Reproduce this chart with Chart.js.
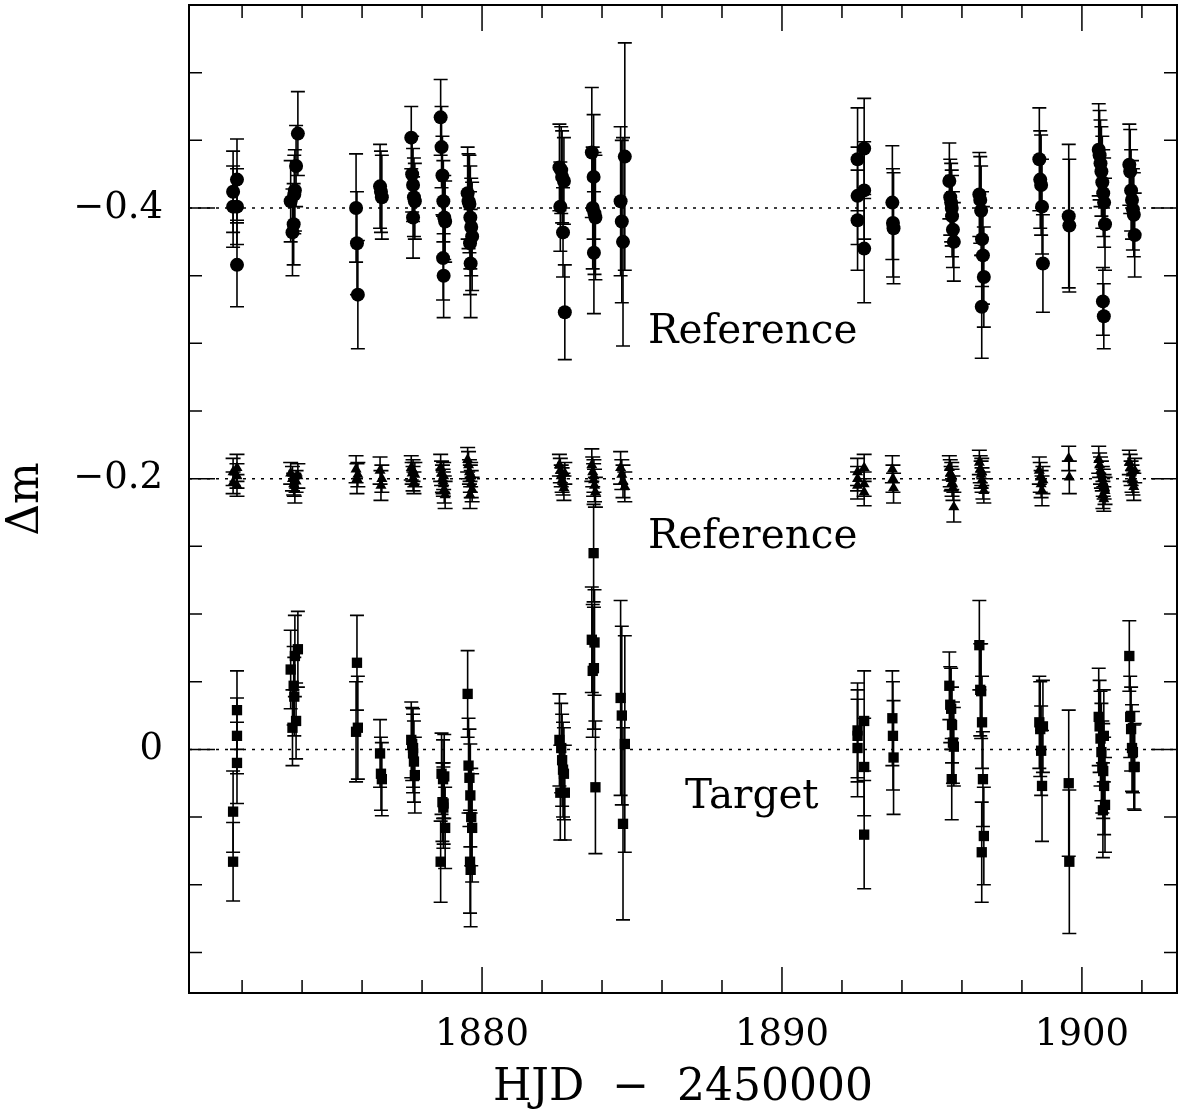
<!DOCTYPE html>
<html>
<head>
<meta charset="utf-8">
<script src="https://cdn.jsdelivr.net/npm/chart.js@4.4.1/dist/chart.umd.min.js"></script>
<style>
  html, body { margin: 0; padding: 0; background: #fff; }
</style>
</head>
<body>
<canvas id="lc" width="1178" height="1115"></canvas>
<script>
// observation times (HJD - 2450000), one row per night
const hjd = [
  1871.70, 1871.70, 1871.83, 1871.83, 1871.83,
  1873.62, 1873.68, 1873.72, 1873.76, 1873.80, 1873.86, 1873.74,
  1875.80, 1875.83, 1875.86,
  1876.60, 1876.63, 1876.66,
  1877.64, 1877.67, 1877.70, 1877.73, 1877.76, 1877.70,
  1878.62, 1878.65, 1878.68, 1878.71, 1878.74, 1878.77, 1878.70, 1878.72,
  1879.52, 1879.55, 1879.58, 1879.61, 1879.64, 1879.67, 1879.60, 1879.62,
  1882.58, 1882.61, 1882.64, 1882.67, 1882.70, 1882.73, 1882.76,
  1883.66, 1883.69, 1883.72, 1883.75, 1883.78, 1883.73,
  1884.62, 1884.66, 1884.70, 1884.76,
  1892.52, 1892.52, 1892.52, 1892.74, 1892.74, 1892.74,
  1893.68, 1893.70, 1893.72,
  1895.58, 1895.61, 1895.64, 1895.67, 1895.70, 1895.73, 1895.66,
  1896.58, 1896.61, 1896.64, 1896.67, 1896.70, 1896.73, 1896.66,
  1898.58, 1898.61, 1898.64, 1898.67, 1898.70,
  1899.56, 1899.58,
  1900.56, 1900.59, 1900.62, 1900.65, 1900.68, 1900.71, 1900.74, 1900.77, 1900.70, 1900.73,
  1901.58, 1901.61, 1901.64, 1901.67, 1901.70, 1901.73, 1901.76
];

// first reference star (circles), shifted to -0.4
const ref1 = [
  -0.412, -0.401, -0.421, -0.401, -0.358,
  -0.405, -0.382, -0.388, -0.413, -0.431, -0.455, -0.410,
  -0.400, -0.374, -0.336,
  -0.416, -0.412, -0.408,
  -0.452, -0.425, -0.417, -0.408, -0.405, -0.393,
  -0.467, -0.445, -0.424, -0.405, -0.393, -0.390, -0.363, -0.350,
  -0.411, -0.405, -0.403, -0.393, -0.386, -0.379, -0.374, -0.359,
  -0.430, -0.401, -0.428, -0.423, -0.382, -0.420, -0.323,
  -0.441, -0.400, -0.423, -0.396, -0.393, -0.367,
  -0.405, -0.390, -0.375, -0.438,
  -0.436, -0.409, -0.391, -0.444, -0.413, -0.370,
  -0.404, -0.389, -0.385,
  -0.420, -0.408, -0.404, -0.394, -0.384, -0.375, -0.400,
  -0.410, -0.406, -0.398, -0.377, -0.365, -0.349, -0.327,
  -0.436, -0.421, -0.417, -0.401, -0.359,
  -0.394, -0.387,
  -0.443, -0.439, -0.433, -0.427, -0.419, -0.411, -0.404, -0.388, -0.331, -0.320,
  -0.432, -0.427, -0.413, -0.406, -0.399, -0.395, -0.380
];
const ref1Err = [
  0.030, 0.030, 0.030, 0.028, 0.031,
  0.030, 0.032, 0.030, 0.030, 0.030, 0.031, 0.029,
  0.040, 0.038, 0.040,
  0.031, 0.030, 0.031,
  0.023, 0.028, 0.027, 0.029, 0.028, 0.030,
  0.028, 0.030, 0.029, 0.030, 0.031, 0.030, 0.031, 0.031,
  0.034, 0.035, 0.036, 0.038, 0.036, 0.040, 0.038, 0.040,
  0.032, 0.033, 0.032, 0.034, 0.033, 0.032, 0.035,
  0.048, 0.045, 0.046, 0.045, 0.046, 0.045,
  0.055, 0.060, 0.077, 0.084,
  0.038, 0.036, 0.037, 0.037, 0.036, 0.040,
  0.042, 0.040, 0.041,
  0.028, 0.028, 0.029, 0.030, 0.028, 0.029, 0.028,
  0.031, 0.032, 0.033, 0.035, 0.036, 0.037, 0.038,
  0.038, 0.036, 0.037, 0.035, 0.036,
  0.053, 0.049,
  0.034, 0.033, 0.032, 0.033, 0.034, 0.032, 0.033, 0.034, 0.025, 0.024,
  0.030, 0.031, 0.030, 0.029, 0.030, 0.031, 0.031
];

// second reference star (triangles), shifted to -0.2
const ref2 = [
  -0.205, -0.197, -0.202, -0.208, -0.195,
  -0.204, -0.200, -0.196, -0.192, -0.198, -0.202, -0.195,
  -0.207, -0.200, -0.203,
  -0.206, -0.195, -0.200,
  -0.208, -0.204, -0.200, -0.197, -0.203, -0.206,
  -0.208, -0.204, -0.200, -0.196, -0.192, -0.188, -0.198, -0.202,
  -0.214, -0.210, -0.205, -0.200, -0.196, -0.192, -0.188, -0.203,
  -0.210, -0.206, -0.202, -0.199, -0.196, -0.193, -0.204,
  -0.210, -0.205, -0.199, -0.195, -0.190, -0.202,
  -0.208, -0.203, -0.198, -0.194,
  -0.205, -0.200, -0.195, -0.208, -0.196, -0.190,
  -0.207, -0.200, -0.193,
  -0.208, -0.204, -0.200, -0.197, -0.193, -0.179, -0.202,
  -0.212, -0.207, -0.203, -0.199, -0.195, -0.191, -0.205,
  -0.206, -0.201, -0.196, -0.191, -0.199,
  -0.215, -0.201,
  -0.214, -0.210, -0.206, -0.203, -0.200, -0.197, -0.194, -0.191, -0.188, -0.185,
  -0.212, -0.208, -0.204, -0.200, -0.197, -0.194, -0.206
];
const ref2Err = [
  0.010, 0.008, 0.009, 0.010, 0.008,
  0.008, 0.009, 0.008, 0.010, 0.008, 0.009, 0.008,
  0.010, 0.011, 0.009,
  0.010, 0.011, 0.010,
  0.009, 0.008, 0.009, 0.008, 0.009, 0.008,
  0.010, 0.009, 0.010, 0.009, 0.010, 0.010, 0.009, 0.010,
  0.009, 0.010, 0.009, 0.010, 0.010, 0.009, 0.010, 0.009,
  0.008, 0.009, 0.008, 0.009, 0.008, 0.009, 0.008,
  0.012, 0.011, 0.012, 0.012, 0.011, 0.012,
  0.012, 0.011, 0.012, 0.011,
  0.010, 0.009, 0.010, 0.010, 0.009, 0.010,
  0.010, 0.010, 0.011,
  0.009, 0.010, 0.009, 0.010, 0.009, 0.011, 0.010,
  0.009, 0.010, 0.010, 0.009, 0.010, 0.009, 0.010,
  0.010, 0.011, 0.010, 0.011, 0.010,
  0.009, 0.012,
  0.010, 0.009, 0.010, 0.010, 0.009, 0.010, 0.009, 0.010, 0.010, 0.009,
  0.009, 0.010, 0.009, 0.010, 0.009, 0.010, 0.009
];

// target (squares)
const target = [
  0.046, 0.083, -0.029, -0.010, 0.010,
  -0.059, -0.016, -0.047, -0.069, -0.021, -0.074, -0.039,
  -0.013, -0.064, -0.016,
  0.003, 0.018, 0.022,
  -0.007, -0.004, -0.001, 0.009, 0.019, 0.003,
  0.083, 0.018, 0.039, 0.043, 0.020, 0.058, 0.022, 0.040,
  -0.041, 0.012, 0.021, 0.034, 0.050, 0.058, 0.083, 0.089,
  -0.007, 0.032, -0.001, 0.008, 0.015, 0.018, 0.032,
  -0.081, -0.058, -0.145, -0.079, 0.028, -0.060,
  -0.038, -0.025, 0.055, -0.004,
  -0.014, -0.001, -0.010, -0.021, 0.013, 0.063,
  -0.023, -0.010, 0.006,
  -0.047, -0.033, -0.030, -0.018, -0.005, -0.002, 0.022,
  -0.077, -0.044, -0.043, -0.020, 0.022, 0.064, 0.076,
  -0.020, -0.015, 0.001, 0.027, -0.017,
  0.025, 0.083,
  -0.024, -0.017, -0.008, 0.002, 0.013, 0.016, 0.027, 0.041, 0.045, -0.010,
  -0.069, -0.024, -0.015, -0.001, 0.002, 0.013, 0.013
];
const targetErr = [
  0.030, 0.029, 0.029, 0.028, 0.030,
  0.029, 0.028, 0.029, 0.030, 0.028, 0.028, 0.029,
  0.037, 0.035, 0.038,
  0.025, 0.027, 0.027,
  0.028, 0.027, 0.029, 0.030, 0.028, 0.029,
  0.030, 0.030, 0.029, 0.030, 0.031, 0.030, 0.029, 0.030,
  0.032, 0.035, 0.036, 0.038, 0.036, 0.040, 0.038, 0.042,
  0.034, 0.035, 0.033, 0.034, 0.035, 0.034, 0.035,
  0.039, 0.049, 0.036, 0.039, 0.049, 0.045,
  0.072, 0.066, 0.071, 0.080,
  0.035, 0.036, 0.034, 0.037, 0.036, 0.040,
  0.035, 0.040, 0.042,
  0.025, 0.028, 0.030, 0.028, 0.030, 0.029, 0.030,
  0.033, 0.034, 0.035, 0.034, 0.035, 0.036, 0.037,
  0.034, 0.035, 0.033, 0.041, 0.034,
  0.054, 0.053,
  0.036, 0.034, 0.035, 0.036, 0.034, 0.035, 0.036, 0.035, 0.035, 0.034,
  0.026, 0.030, 0.031, 0.032, 0.030, 0.031, 0.032
];

// dotted zero levels and text labels
const levels = [-0.4, -0.2, 0];
const labelText = ['Reference', 'Reference', 'Target'];
const labelX = [1885.53, 1885.53, 1886.77];
const labelY = [-0.300, -0.149, 0.0436];

// axis ticks
const xMajor = [1880, 1890, 1900];
const xMinor = [1872, 1874, 1876, 1878, 1882, 1884, 1886, 1888, 1892, 1894, 1896, 1898, 1902];
const yMajor = [-0.4, -0.2, 0];
const yMinor = [-0.5, -0.45, -0.35, -0.3, -0.25, -0.15, -0.1, -0.05, 0.05, 0.1, 0.15];

const X_MIN = 1870.23, X_MAX = 1903.17;
const Y_MIN = -0.55, Y_MAX = 0.18;

const toPoints = (ys) => hjd.map((t, i) => ({ x: t, y: ys[i] }));

// error bars drawn under the markers
const errorBars = {
  id: 'errorBars',
  beforeDatasetsDraw(chart) {
    const { ctx, scales: { x, y } } = chart;
    ctx.save();
    ctx.strokeStyle = '#000';
    ctx.lineWidth = 1.6;
    chart.data.datasets.forEach(ds => {
      if (!ds.errors) return;
      ds.data.forEach((p, j) => {
        const px = x.getPixelForValue(p.x);
        const top = y.getPixelForValue(p.y - ds.errors[j]);
        const bot = y.getPixelForValue(p.y + ds.errors[j]);
        const c = ds.capHalf;
        ctx.beginPath();
        ctx.moveTo(px, top); ctx.lineTo(px, bot);
        ctx.moveTo(px - c, top); ctx.lineTo(px + c, top);
        ctx.moveTo(px - c, bot); ctx.lineTo(px + c, bot);
        ctx.stroke();
      });
    });
    ctx.restore();
  }
};

// box frame with inward ticks on all four sides + text labels
const frame = {
  id: 'frame',
  afterDraw(chart) {
    const { ctx, chartArea: a, scales: { x, y } } = chart;
    ctx.save();
    ctx.strokeStyle = '#000';
    ctx.lineWidth = 1.5;
    ctx.beginPath();
    const tick = (vals, len) => {
      vals.forEach(v => {
        const px = x.getPixelForValue(v);
        ctx.moveTo(px, a.bottom); ctx.lineTo(px, a.bottom - len);
        ctx.moveTo(px, a.top); ctx.lineTo(px, a.top + len);
      });
    };
    const ytick = (vals, len) => {
      vals.forEach(v => {
        const py = y.getPixelForValue(v);
        ctx.moveTo(a.left, py); ctx.lineTo(a.left + len, py);
        ctx.moveTo(a.right, py); ctx.lineTo(a.right - len, py);
      });
    };
    tick(xMajor, 26); tick(xMinor, 13);
    ytick(yMajor, 26); ytick(yMinor, 13);
    ctx.stroke();
    ctx.lineWidth = 2;
    ctx.strokeRect(a.left, a.top, a.right - a.left, a.bottom - a.top);

    ctx.fillStyle = '#000';
    ctx.font = '40.5px "DejaVu Serif"';
    ctx.textAlign = 'left';
    ctx.textBaseline = 'alphabetic';
    labelText.forEach((t, i) => {
      ctx.fillText(t, x.getPixelForValue(labelX[i]), y.getPixelForValue(labelY[i]));
    });
    ctx.restore();
  }
};

const datasets = [
  {
    label: 'Reference 1', data: toPoints(ref1), errors: ref1Err, capHalf: 7,
    pointStyle: 'circle', pointRadius: 7, backgroundColor: '#000', borderWidth: 0
  },
  {
    label: 'Reference 2', data: toPoints(ref2), errors: ref2Err, capHalf: 7.5,
    pointStyle: 'triangle', pointRadius: 6.4, backgroundColor: '#000', borderWidth: 0
  },
  {
    label: 'Target', data: toPoints(target), errors: targetErr, capHalf: 7,
    pointStyle: 'rect', pointRadius: 7.3, backgroundColor: '#000', borderWidth: 0
  }
];
levels.forEach(lv => {
  datasets.push({
    type: 'line', data: [{ x: X_MIN, y: lv }, { x: X_MAX, y: lv }],
    borderColor: '#000', borderWidth: 1.5, borderDash: [3, 6],
    pointRadius: 0, fill: false, order: 10
  });
});

new Chart(document.getElementById('lc'), {
  type: 'scatter',
  data: { datasets },
  options: {
    responsive: false,
    animation: false,
    events: [],
    layout: { autoPadding: false, padding: { top: 5, right: 1, left: 0, bottom: 0 } },
    plugins: { legend: { display: false }, tooltip: { enabled: false } },
    scales: {
      x: {
        type: 'linear', min: X_MIN, max: X_MAX,
        afterBuildTicks: s => { s.ticks = xMajor.map(v => ({ value: v })); },
        afterFit: s => {
          s.height = 122;
          s.paddingLeft = 0; s.paddingRight = 0; s.paddingTop = 0; s.paddingBottom = 0;
        },
        grid: { display: false, drawTicks: false },
        border: { display: false },
        ticks: {
          color: '#000', padding: 20, maxRotation: 0,
          font: { family: 'DejaVu Serif', size: 37 },
          callback: v => String(v)
        },
        title: {
          display: true, text: 'HJD  −  2450000', color: '#000',
          font: { family: 'DejaVu Serif', size: 44 }, padding: { top: 4, bottom: 0 }
        }
      },
      y: {
        type: 'linear', reverse: true, min: Y_MIN, max: Y_MAX,
        afterBuildTicks: s => { s.ticks = yMajor.map(v => ({ value: v })); },
        afterFit: s => {
          s.width = 189;
          s.paddingLeft = 0; s.paddingRight = 0; s.paddingTop = 0; s.paddingBottom = 0;
        },
        grid: { display: false, drawTicks: false },
        border: { display: false },
        ticks: {
          color: '#000', padding: 26,
          font: { family: 'DejaVu Serif', size: 37 },
          callback: v => v === 0 ? '0' : '−' + Math.abs(v).toFixed(1)
        },
        title: {
          display: true, text: 'Δm', color: '#000',
          font: { family: 'DejaVu Serif', size: 44 }, padding: { top: 0, bottom: 0 }
        }
      }
    }
  },
  plugins: [errorBars, frame]
});
</script>
</body>
</html>
